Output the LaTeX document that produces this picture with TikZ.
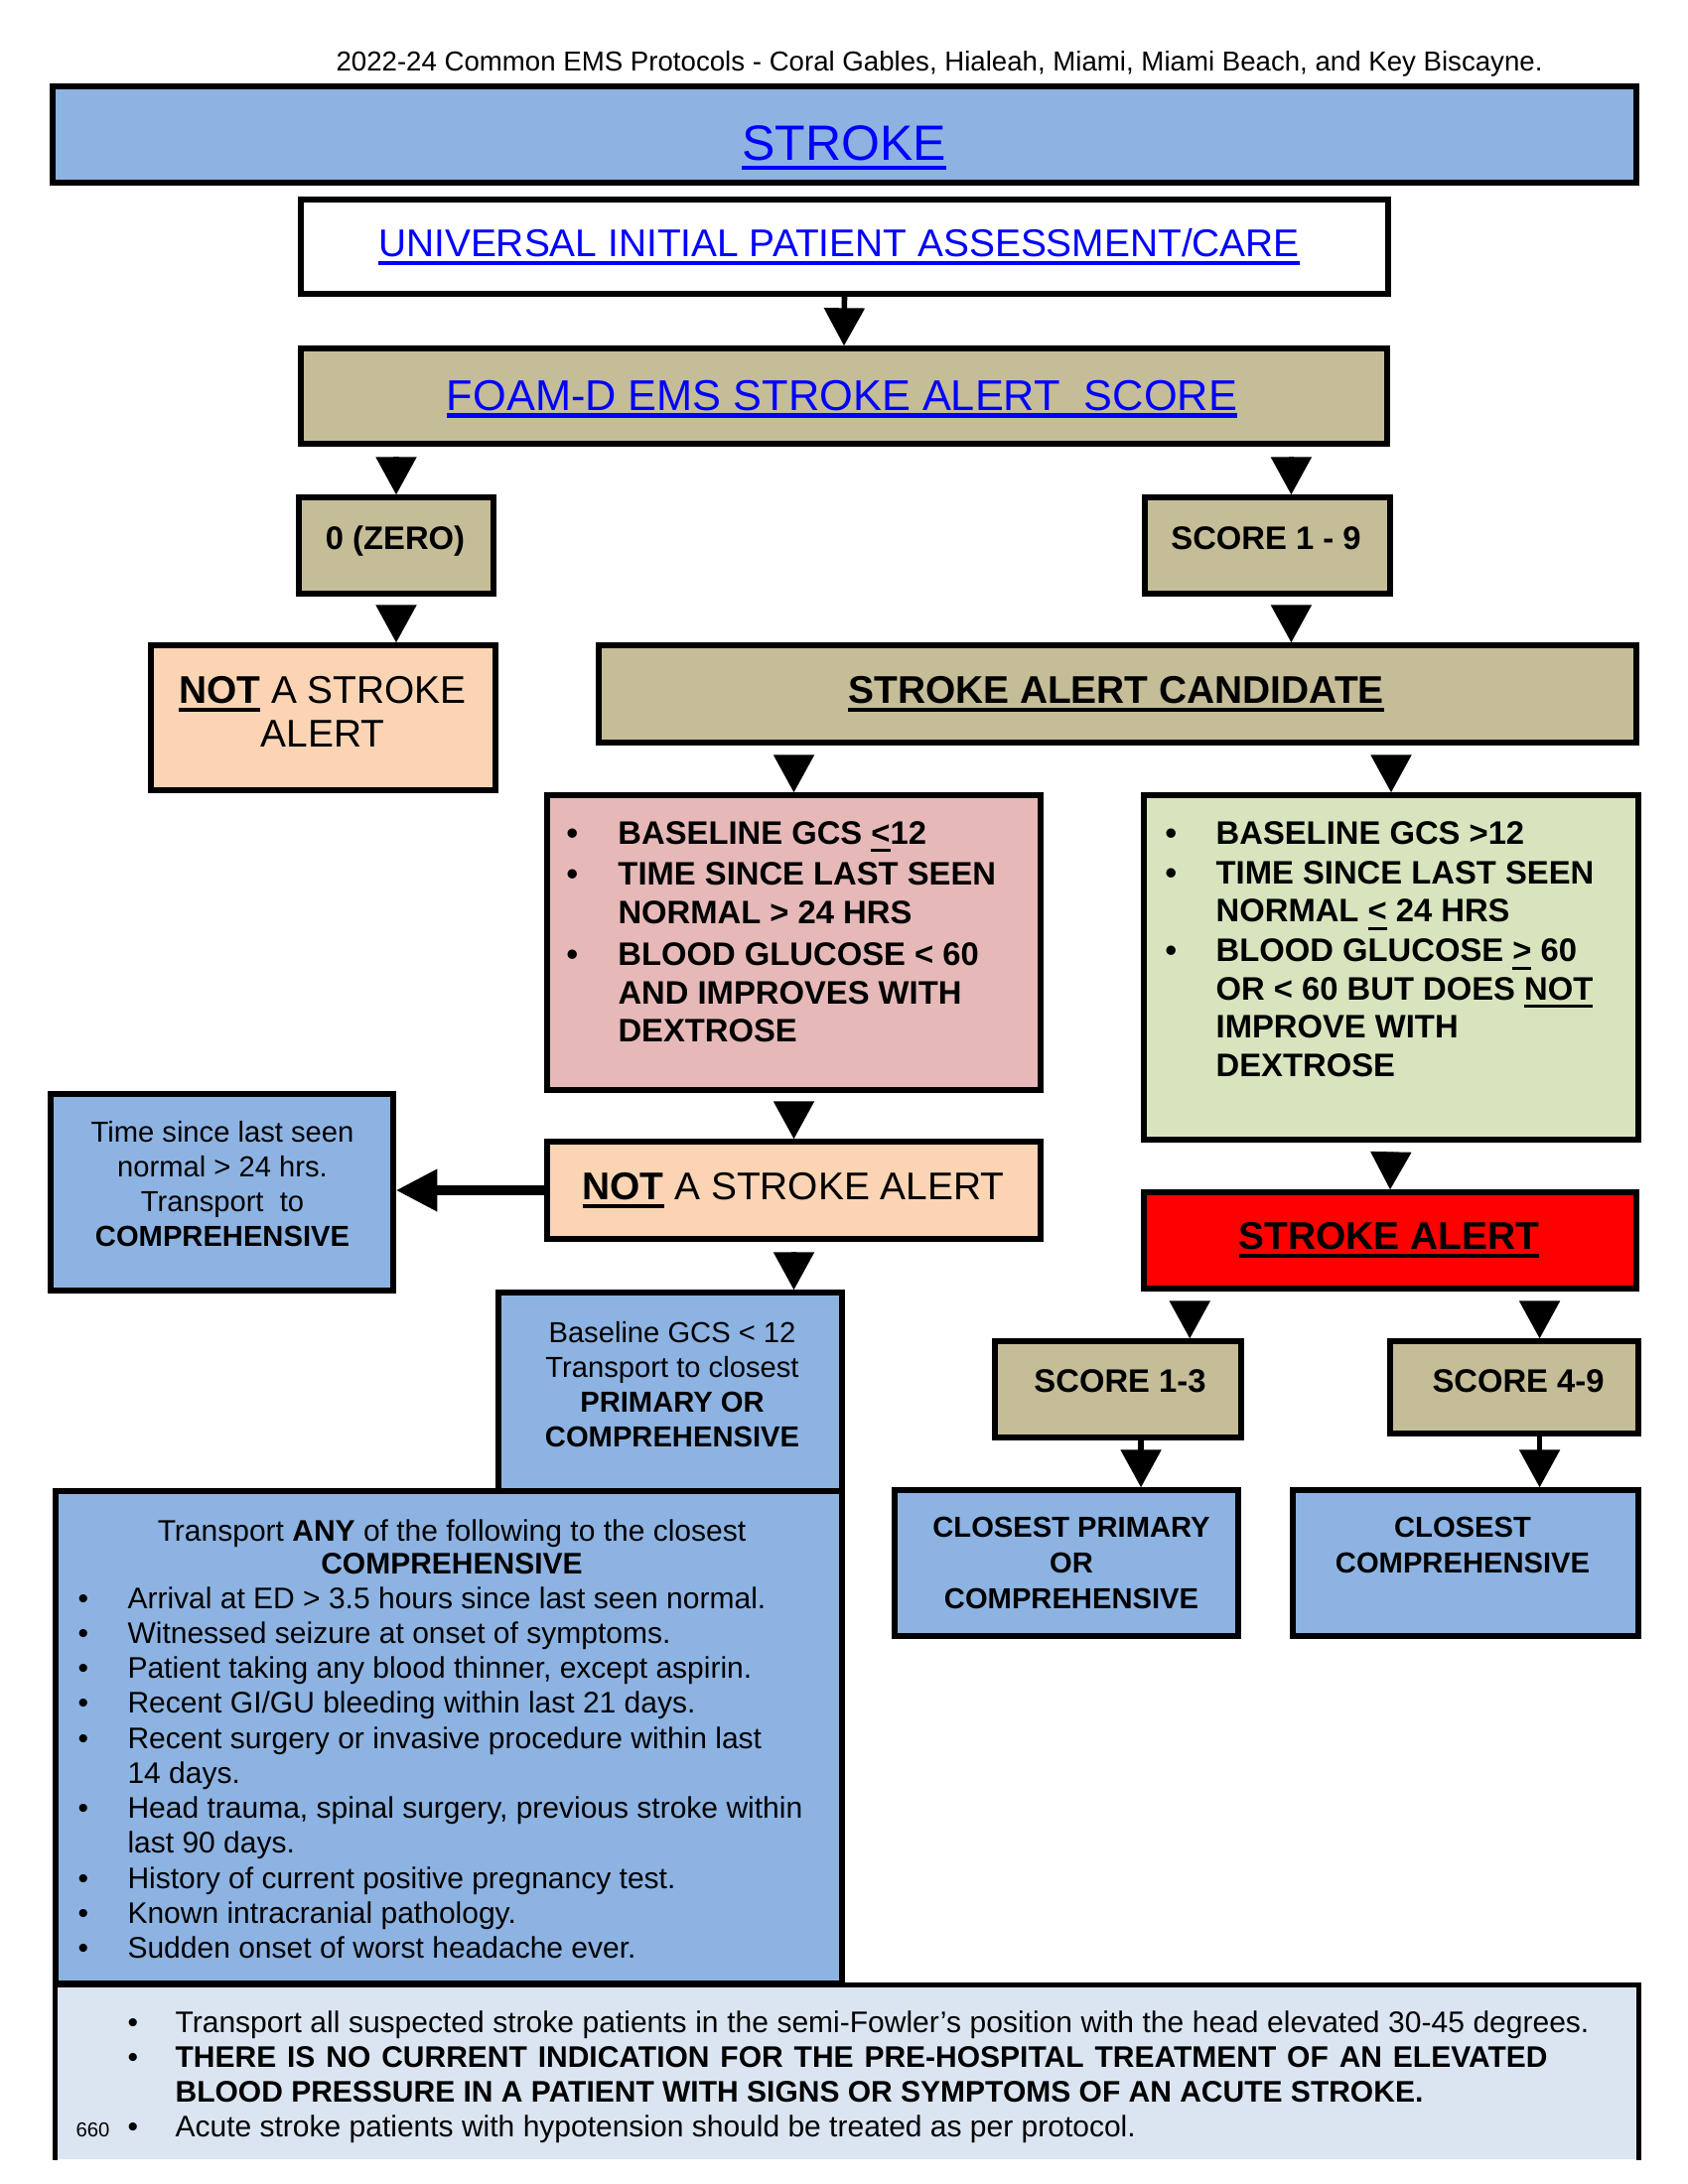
\documentclass[tikz,border=0pt]{standalone}
\usepackage{fontspec}
\setmainfont{Liberation Sans}
\usetikzlibrary{arrows.meta,fit}

\definecolor{boxblue}{HTML}{8DB3E2}
\definecolor{boxtan}{HTML}{C4BD97}
\definecolor{boxpeach}{HTML}{FBD4B4}
\definecolor{boxpink}{HTML}{E6B9B8}
\definecolor{boxgreen}{HTML}{D7E4BD}
\definecolor{boxred}{HTML}{FF0000}
\definecolor{notesblue}{HTML}{DBE5F1}
\definecolor{linkblue}{HTML}{0000FF}

% underline with a chosen depth (#1) and thickness (#2)
\newcommand\uln[3]{\setbox0=\hbox{#3}\rlap{\rule[-#1]{\wd0}{#2}}\box0\relax}

\begin{document}
\begin{tikzpicture}[x=0.36pt,y=-0.36pt,
  box/.style={draw=black,line width=1.9pt,inner sep=0pt},
  txt/.style={inner sep=0pt},
  arr/.style={line width=2pt,-{Triangle[length=13.7pt,width=14.4pt]}},
  tip/.style={arr,shorten <=3.6pt},
  bigarr/.style={line width=3.6pt,-{Triangle[length=15pt,width=14.4pt]}},
  f14/.style={font=\fontsize{14}{16}\selectfont},
  f12b/.style={font=\fontsize{11.8}{13.9}\selectfont\bfseries},
  f10/.style={font=\fontsize{10.5}{12.6}\selectfont},
  ]
\useasboundingbox (0,0) rectangle (1700,2200);

% page header
\node[txt,anchor=base west] (hdr) at (338,72)
  {\fontsize{9.95}{11}\selectfont 2022-24 Common EMS Protocols - Coral Gables, Hialeah, Miami, Miami Beach, and Key Biscayne.};

% boxes
\node[box,fill=boxblue,fit={(53,87) (1648,184)}] (title) {};
\node[box,fill=white,fit={(303,201) (1398,296)}] (univ) {};
\node[box,fill=boxtan,fit={(303,351) (1397,447)}] (foam) {};
\node[box,fill=boxtan,fit={(301,501) (497,598)}] (zero) {};
\node[box,fill=boxtan,fit={(1153,501) (1400,598)}] (score19) {};
\node[box,fill=boxpeach,fit={(152,650) (499,796)}] (notL) {};
\node[box,fill=boxtan,fit={(603,650) (1648,748)}] (cand) {};
\node[box,fill=boxpink,fit={(551,801) (1048,1098)}] (pink) {};
\node[box,fill=boxgreen,fit={(1152,801) (1650,1148)}] (green) {};
\node[box,fill=boxblue,fit={(51,1102) (396,1300)}] (time) {};
\node[box,fill=boxpeach,fit={(551,1150) (1048,1248)}] (notM) {};
\node[box,fill=boxred,fit={(1152,1201) (1648,1298)}] (sa) {};
\node[box,fill=boxblue,fit={(502,1302) (848,1502)}] (gcs) {};
\node[box,fill=boxblue,fit={(56,1502) (848,1998)}] (any) {};
\node[box,fill=boxtan,fit={(1002,1351) (1250,1448)}] (s13) {};
\node[box,fill=boxtan,fit={(1400,1351) (1650,1444)}] (s49) {};
\node[box,fill=boxblue,fit={(901,1501) (1247,1648)}] (cp) {};
\node[box,fill=boxblue,fit={(1302,1501) (1650,1648)}] (cc) {};
\node[fill=notesblue,inner sep=0pt,fit={(56,2000) (1650,2175)}] (notes) {};
\draw[line width=1.9pt] (notes.south west) -- (notes.north west) -- (notes.north east) -- (notes.south east);

% box texts
\node[txt,anchor=base,text=linkblue,font=\fontsize{18}{22}\selectfont] (titletxt) at (850,162)
  {\uln{3.2pt}{1.5pt}{STROKE}};
\node[txt,anchor=base,text=linkblue,f14] (univtxt) at (845,259)
  {\uln{2.9pt}{1.3pt}{UNIVERSAL INITIAL PATIENT ASSESSMENT/CARE}};
\node[txt,anchor=base,text=linkblue,font=\fontsize{15.6}{18}\selectfont] (foamtxt) at (848,413)
  {\uln{2.9pt}{1.8pt}{FOAM-D EMS STROKE ALERT\ \ SCORE}};
\node[txt,anchor=base,font=\fontsize{11.8}{14}\selectfont\bfseries] (zerotxt) at (398,553) {0 (ZERO)};
\node[txt,anchor=base,font=\fontsize{11.8}{14}\selectfont\bfseries] (s19txt) at (1275,553) {SCORE 1 - 9};
\node[txt,anchor=base,f14] (notLtxt) at (325,708)
  {\begin{tabular}[t]{@{}c@{}}\textbf{\uln{3.2pt}{1.4pt}{NOT}} A STROKE\\[0pt]ALERT\end{tabular}};
\node[txt,anchor=base,f14] (candtxt) at (1124,708)
  {\bfseries\uln{3.2pt}{1.4pt}{STROKE ALERT CANDIDATE}};

\node[txt,anchor=base west,f12b] (pinklist) at (570,850)
  {\begin{tabular}[t]{@{}p{18.7pt}@{}l@{}}
   \textbullet & BASELINE GCS \uln{2.9pt}{1.1pt}{<}12\\[1.2pt]
   \textbullet & TIME SINCE LAST SEEN\\
               & NORMAL > 24 HRS\\[1.2pt]
   \textbullet & BLOOD GLUCOSE < 60\\
               & AND IMPROVES WITH\\
               & DEXTROSE
   \end{tabular}};
\node[txt,anchor=base west,f12b] (greenlist) at (1173,850)
  {\begin{tabular}[t]{@{}p{18.4pt}@{}l@{}}
   \textbullet & BASELINE GCS >12\\[0.5pt]
   \textbullet & TIME SINCE LAST SEEN\\
               & NORMAL \uln{2.9pt}{1.1pt}{<} 24 HRS\\[0.5pt]
   \textbullet & BLOOD GLUCOSE \uln{2.9pt}{1.1pt}{>} 60\\
               & OR < 60 BUT DOES \uln{2.9pt}{1.1pt}{NOT}\\
               & IMPROVE WITH\\
               & DEXTROSE
   \end{tabular}};

\node[txt,anchor=base,f10] (timetxt) at (224,1150)
  {\begin{tabular}[t]{@{}c@{}}Time since last seen\\normal > 24 hrs.\\Transport\ \ to\\\textbf{COMPREHENSIVE}\end{tabular}};
\node[txt,anchor=base,f14] (notMtxt) at (799,1208)
  {\textbf{\uln{3.2pt}{1.4pt}{NOT}} A STROKE ALERT};
\node[txt,anchor=base,f14] (satxt) at (1399,1258)
  {\bfseries\uln{3.2pt}{1.4pt}{STROKE ALERT}};
\node[txt,anchor=base,f10] (gcstxt) at (677,1352)
  {\begin{tabular}[t]{@{}c@{}}Baseline GCS < 12\\Transport to closest\\\textbf{PRIMARY OR}\\\textbf{COMPREHENSIVE}\end{tabular}};
\node[txt,anchor=base,font=\fontsize{11.8}{14}\selectfont\bfseries] (s13txt) at (1128,1402) {SCORE 1-3};
\node[txt,anchor=base,font=\fontsize{11.8}{14}\selectfont\bfseries] (s49txt) at (1529,1402) {SCORE 4-9};
\node[txt,anchor=base,font=\fontsize{10.5}{13}\selectfont\bfseries] (cptxt) at (1079,1548)
  {\begin{tabular}[t]{@{}c@{}}CLOSEST PRIMARY\\OR\\COMPREHENSIVE\end{tabular}};
\node[txt,anchor=base,font=\fontsize{10.5}{13}\selectfont\bfseries] (cctxt) at (1473,1548)
  {\begin{tabular}[t]{@{}c@{}}CLOSEST\\COMPREHENSIVE\end{tabular}};

\node[txt,anchor=base,font=\fontsize{10.8}{11.9}\selectfont] (anyhead) at (455,1552)
  {\begin{tabular}[t]{@{}c@{}}Transport \textbf{ANY} of the following to the closest\\\textbf{COMPREHENSIVE}\end{tabular}};
\node[txt,anchor=base west,font=\fontsize{10.8}{12.7}\selectfont] (anylist) at (78,1620)
  {\begin{tabular}[t]{@{}p{18pt}@{}l@{}}
   \textbullet & Arrival at ED > 3.5 hours since last seen normal.\\
   \textbullet & Witnessed seizure at onset of symptoms.\\
   \textbullet & Patient taking any blood thinner, except aspirin.\\
   \textbullet & Recent GI/GU bleeding within last 21 days.\\
   \textbullet & Recent surgery or invasive procedure within last\\
               & 14 days.\\
   \textbullet & Head trauma, spinal surgery, previous stroke within\\
               & last 90 days.\\
   \textbullet & History of current positive pregnancy test.\\
   \textbullet & Known intracranial pathology.\\
   \textbullet & Sudden onset of worst headache ever.
   \end{tabular}};

\node[txt,anchor=base west,font=\fontsize{10.8}{12.6}\selectfont] (noteslist) at (128,2047)
  {\begin{tabular}[t]{@{}p{17.3pt}@{}l@{}}
   \textbullet & \makebox[512.6pt][s]{Transport all suspected stroke patients in the semi-Fowler’s position with the head elevated 30-45 degrees.}\\
   \textbullet & \makebox[497.5pt][s]{\bfseries THERE IS NO CURRENT INDICATION FOR THE PRE-HOSPITAL TREATMENT OF AN ELEVATED}\\
               & \bfseries BLOOD PRESSURE IN A PATIENT WITH SIGNS OR SYMPTOMS OF AN ACUTE STROKE.\\
   \textbullet & Acute stroke patients with hypotension should be treated as per protocol.
   \end{tabular}};
\node[txt,anchor=base west,font=\fontsize{7.3}{8}\selectfont] (pageno) at (76,2152) {660};

% arrow columns off the box centres
\coordinate (a19) at ([xshift=8.6pt]score19.north);
\coordinate (a13) at ([xshift=26pt]s13.north);
\coordinate (b13) at ([xshift=8.3pt]s13.south);
\coordinate (a49) at ([xshift=9.2pt]s49.north);

% connectors
\draw[arr] (univ.south) -- (foam.north);
\draw[tip] (zero.north |- foam.south) -- (zero.north);
\draw[tip] (a19 |- foam.south) -- (a19);
\draw[tip] (zero.south) -- (zero.south |- notL.north);
\draw[tip] (a19 |- score19.south) -- (a19 |- cand.north);
\draw[tip] (pink.north |- cand.south) -- (pink.north);
\draw[tip] (green.north |- cand.south) -- (green.north);
\draw[tip] (pink.south) -- (notM.north);
\draw[tip] (green.south) -- (sa.north);
\draw[bigarr] (notM.west) -- (notM.west -| time.east);
\draw[tip] (notM.south) -- (notM.south |- gcs.north);
\draw[tip] (a13 |- sa.south) -- (a13);
\draw[tip] (a49 |- sa.south) -- (a49);
\draw[arr] (b13) -- (b13 |- cp.north);
\draw[arr] (a49 |- s49.south) -- (a49 |- cc.north);
\end{tikzpicture}
\end{document}
